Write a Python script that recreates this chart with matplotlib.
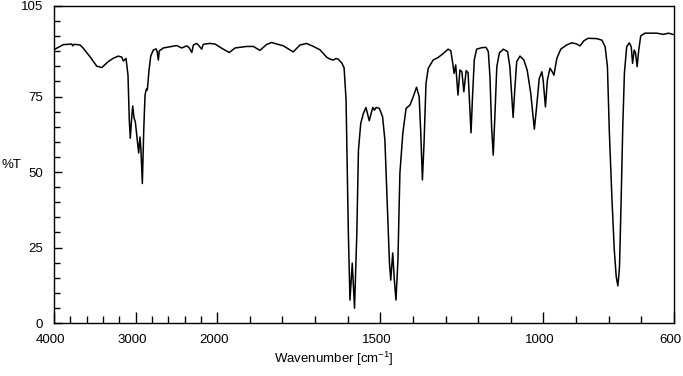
import numpy as np
import matplotlib
matplotlib.use("Agg")
import matplotlib.pyplot as plt
import matplotlib.transforms as mtransforms
from matplotlib.ticker import FixedLocator

# IR spectrum (wavenumber in cm-1, transmittance in %T)
wavenumber = [
    4000, 3988, 3886, 3783, 3770, 3755, 3681, 3641, 3559, 3477, 3415, 3334,
    3273, 3212, 3170, 3150, 3117, 3093, 3077, 3065, 3048, 3035, 3019, 3003,
    2979, 2962, 2946, 2934, 2917, 2900, 2884, 2868, 2856, 2835, 2814, 2783,
    2749, 2735, 2721, 2710, 2660, 2578, 2496, 2434, 2373, 2344, 2311, 2291,
    2250, 2222, 2189, 2170, 2149, 2087, 2026, 1986, 1963, 1945, 1910, 1889,
    1869, 1848, 1833, 1797, 1767, 1746, 1726, 1705, 1685, 1664, 1654, 1644,
    1636, 1629, 1618, 1611, 1605, 1598, 1593, 1586, 1579, 1572, 1567, 1560,
    1552, 1544, 1534, 1523, 1518, 1513, 1503, 1493, 1486, 1479, 1472, 1468,
    1462, 1457, 1452, 1446, 1440, 1431, 1421, 1409, 1399, 1389, 1381, 1376,
    1371, 1366, 1360, 1353, 1338, 1322, 1307, 1292, 1284, 1278, 1274, 1269,
    1262, 1256, 1250, 1244, 1237, 1231, 1227, 1222, 1217, 1212, 1205, 1189,
    1176, 1169, 1164, 1159, 1154, 1149, 1143, 1135, 1123, 1110, 1103, 1097,
    1093, 1088, 1082, 1072, 1060, 1050, 1039, 1033, 1028, 1021, 1013, 1005,
    1001, 994, 988, 980, 973, 968, 959, 947, 929, 913, 900, 888, 876, 863,
    837, 821, 811, 804, 798, 790, 783, 777, 772, 767, 762, 757, 752, 745,
    737, 731, 727, 722, 718, 713, 708, 702, 689, 653, 632, 617, 600,
]
transmittance = [
    90.5, 90.7, 92.2, 92.4, 91.8, 92.3, 92.1, 91.0, 88.2, 85.1, 84.6, 86.6,
    87.7, 88.4, 88.1, 86.8, 87.6, 82.1, 67.2, 61.2, 67.9, 71.9, 67.9, 66.6,
    60.6, 56.3, 61.6, 57.3, 46.2, 63.9, 75.5, 77.5, 77.2, 83.8, 88.4, 90.4,
    90.8, 89.8, 87.1, 90.1, 91.1, 91.5, 91.9, 91.1, 91.8, 91.2, 89.6, 92.1,
    92.6, 91.8, 90.7, 92.3, 92.4, 92.6, 92.4, 91.0, 89.6, 91.1, 91.6, 91.6,
    90.3, 92.3, 92.9, 91.8, 89.8, 92.1, 92.6, 91.6, 90.5, 88.0, 87.4, 87.1,
    87.6, 87.4, 86.1, 84.5, 74.0, 30.0, 7.6, 19.8, 4.9, 29.7, 57.3, 66.1,
    69.4, 71.4, 67.0, 71.4, 70.5, 71.4, 71.1, 68.3, 60.6, 40.7, 19.9, 14.2,
    23.2, 14.2, 7.6, 20.9, 49.6, 62.9, 71.1, 72.2, 75.0, 78.1, 75.0, 62.9,
    47.4, 59.6, 79.4, 84.4, 87.1, 88.0, 89.3, 90.7, 90.2, 86.0, 82.7, 85.5,
    75.5, 83.8, 83.2, 76.6, 83.6, 82.9, 73.9, 63.0, 76.1, 87.1, 90.7, 91.2,
    91.3, 89.9, 81.6, 65.0, 55.6, 68.3, 84.9, 89.5, 90.7, 89.9, 84.9, 75.0,
    68.1, 77.2, 86.6, 88.4, 87.1, 83.8, 76.1, 69.5, 64.2, 71.6, 81.0, 83.2,
    80.5, 71.6, 80.5, 84.4, 83.2, 82.1, 87.7, 90.7, 92.1, 92.8, 92.5, 91.8,
    93.5, 94.3, 94.2, 93.7, 91.5, 84.9, 62.8, 40.7, 24.2, 15.3, 12.3, 18.6,
    40.7, 65.0, 82.7, 91.5, 92.8, 91.5, 86.0, 90.4, 89.5, 84.9, 90.4, 95.1,
    96.0, 96.0, 95.6, 96.0, 95.5,
]

x_tick_values = [4000, 3000, 2000, 1500, 1000, 600]
x_minor_values = [3800, 3600, 3400, 3200, 2800, 2600, 2400, 2200,
                  1900, 1800, 1700, 1600, 1400, 1300, 1200, 1100,
                  900, 800, 700]
y_tick_values = [0, 25, 50, 75, 105]


def forward(w):
    # above 2000 cm-1 the axis is compressed 4x
    w = np.asarray(w, dtype=float)
    return np.where(w > 2000, 2000 + (w - 2000) / 4.0, w)


def inverse(u):
    u = np.asarray(u, dtype=float)
    return np.where(u > 2000, 2000 + (u - 2000) * 4.0, u)


plt.rcParams["font.family"] = ["Liberation Sans", "DejaVu Sans"]
plt.rcParams["font.size"] = 9.5
plt.rcParams["mathtext.fontset"] = "custom"
plt.rcParams["mathtext.rm"] = "Liberation Sans"

fig = plt.figure(figsize=(6.83, 3.76), dpi=100)
ax = fig.add_axes([54 / 683, 53 / 376, 620 / 683, 317 / 376])

ax.set_xscale("function", functions=(forward, inverse))
ax.plot(wavenumber, transmittance, color="black", lw=1.1)
ax.set_xlim(4000, 600)
ax.set_ylim(0, 105)

ax.xaxis.set_major_locator(FixedLocator(x_tick_values))
ax.xaxis.set_minor_locator(FixedLocator(x_minor_values))
ax.set_xticklabels([str(v) for v in x_tick_values])
ax.yaxis.set_major_locator(FixedLocator(y_tick_values))
ax.yaxis.set_minor_locator(FixedLocator(list(range(5, 105, 5))))
ax.set_yticklabels([str(v) for v in y_tick_values])

ax.tick_params(axis="x", which="major", direction="in", length=7.7, width=1.0, pad=8)
ax.tick_params(axis="x", which="minor", direction="in", length=5.2, width=1.0)
ax.tick_params(axis="y", which="major", direction="in", length=6, width=1.0, pad=8)
ax.tick_params(axis="y", which="minor", direction="in", length=4, width=1.0)
for s in ax.spines.values():
    s.set_linewidth(1.0)

# x tick labels sit a few pixels left of their ticks in the reference
shift = mtransforms.ScaledTranslation(-0.035, 0, fig.dpi_scale_trans)
for lbl in ax.get_xticklabels():
    lbl.set_transform(lbl.get_transform() + shift)

ax.set_xlabel(r"Wavenumber [cm$^{\mathregular{-1}}$]")
ax.xaxis.set_label_coords((334 - 54) / 620, -27 / 317)
ax.set_ylabel("%T", rotation=0, ha="left", va="center")
ax.yaxis.set_label_coords(-52 / 620, 0.5)

fig.savefig("out.png", dpi=100)
